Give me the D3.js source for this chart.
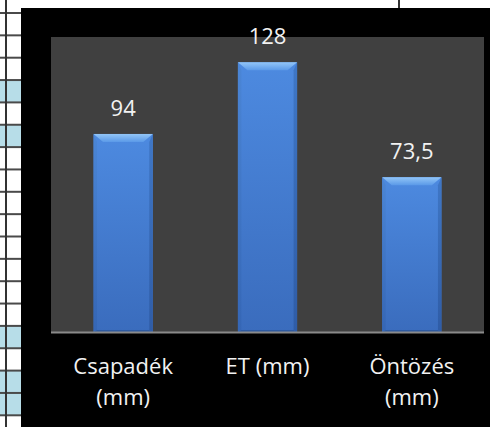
<!DOCTYPE html>
<html><head><meta charset="utf-8">
<script src="https://cdn.jsdelivr.net/npm/d3@7"></script>
<style>html,body{margin:0;padding:0;background:#fff;overflow:hidden}svg{display:block}</style>
</head><body>
<svg id="c" width="490" height="427"></svg>
<script>
const categories = [["Csapadék", "(mm)"], ["ET (mm)"], ["Öntözés", "(mm)"]];
const values = [94, 128, 73.5];
const valueLabels = ["94", "128", "73,5"];
const yDomain = [0, 140];

const W = 490, H = 427;
const svg = d3.select("#c");

// spreadsheet background strip (left) and top
const rowTop = 13, rowH = 22.35;
const blueRows = [3, 5, 14, 16, 17];
for (let i = -1; i < 19; i++) {
  if (blueRows.includes(i)) {
    svg.append("rect").attr("x", 0).attr("y", rowTop + i * rowH).attr("width", 21).attr("height", rowH).attr("fill", "#b7dde8");
  }
}
for (let i = 0; i < 19; i++) {
  svg.append("line").attr("x1", 0).attr("x2", 21).attr("y1", rowTop + i * rowH).attr("y2", rowTop + i * rowH)
    .attr("stroke", "#4a4a4a").attr("stroke-width", 2);
}
svg.append("line").attr("x1", 6).attr("x2", 6).attr("y1", 0).attr("y2", H).attr("stroke", "#333").attr("stroke-width", 2);
svg.append("line").attr("x1", 399).attr("x2", 399).attr("y1", 0).attr("y2", 9).attr("stroke", "#333").attr("stroke-width", 2);

// chart area
svg.append("rect").attr("x", 21).attr("y", 8).attr("width", W - 21).attr("height", H - 8).attr("fill", "#000");
const plot = {l: 51, r: 484, t: 37, b: 332};
svg.append("rect").attr("x", plot.l).attr("y", plot.t).attr("width", plot.r - plot.l).attr("height", plot.b - plot.t).attr("fill", "#404040");

const x = d3.scaleBand().domain(d3.range(values.length)).range([plot.l, plot.r]).paddingInner(0.59).paddingOuter(0.295);
const y = d3.scaleLinear().domain(yDomain).range([plot.b, plot.t]);

const defs = svg.append("defs");
function lg(id, stops, x2 = 0, y2 = 1) {
  const g = defs.append("linearGradient").attr("id", id).attr("x1", 0).attr("y1", 0).attr("x2", x2).attr("y2", y2);
  stops.forEach(s => g.append("stop").attr("offset", s[0]).attr("stop-color", s[1]));
}
lg("body", [[0, "#4d8ae0"], [1, "#3a6cbd"]]);
lg("topb", [[0, "#93c6f7"], [1, "#5b9ae8"]]);
lg("leftb", [[0, "#4b86d6"], [1, "#3566b5"]]);
lg("rightb", [[0, "#3f77c6"], [1, "#2f5ca6"]]);

const bw = x.bandwidth(), bev = 8, sb = 3.5;
const g = svg.append("g");
values.forEach((v, i) => {
  const x0 = x(i), x1 = x0 + bw, y0 = y(v), y1 = y(0);
  g.append("rect").attr("x", x0).attr("y", y0).attr("width", bw).attr("height", y1 - y0).attr("fill", "url(#body)");
  g.append("polygon").attr("points", [[x0, y0], [x0 + sb, y0 + bev], [x0 + sb, y1 - 2], [x0, y1]].join(" ")).attr("fill", "url(#leftb)");
  g.append("polygon").attr("points", [[x1, y0], [x1 - sb, y0 + bev], [x1 - sb, y1 - 2], [x1, y1]].join(" ")).attr("fill", "url(#rightb)");
  g.append("polygon").attr("points", [[x0, y0], [x1, y0], [x1 - sb - 6, y0 + bev], [x0 + sb + 6, y0 + bev]].join(" ")).attr("fill", "url(#topb)");
  g.append("polygon").attr("points", [[x0, y1], [x1, y1], [x1 - sb, y1 - 2], [x0 + sb, y1 - 2]].join(" ")).attr("fill", "#2e5aa0");
  g.append("text").attr("x", x0 + bw / 2).attr("y", y0 - 18).attr("text-anchor", "middle")
    .attr("font-family", "'Open Sans', sans-serif").attr("font-size", 22).attr("fill", "#f2f2f2").text(valueLabels[i]);
});

svg.append("line").attr("x1", plot.l).attr("x2", plot.r).attr("y1", plot.b + 0.5).attr("y2", plot.b + 0.5).attr("stroke", "#8a8a8a").attr("stroke-width", 2);

categories.forEach((lines, i) => {
  const t = svg.append("text").attr("text-anchor", "middle").attr("font-family", "'Open Sans', sans-serif")
    .attr("font-size", 22).attr("fill", "#f2f2f2");
  lines.forEach((s, j) => {
    t.append("tspan").attr("x", x(i) + bw / 2).attr("y", 374 + j * 31).text(s);
  });
});
</script>
</body></html>
